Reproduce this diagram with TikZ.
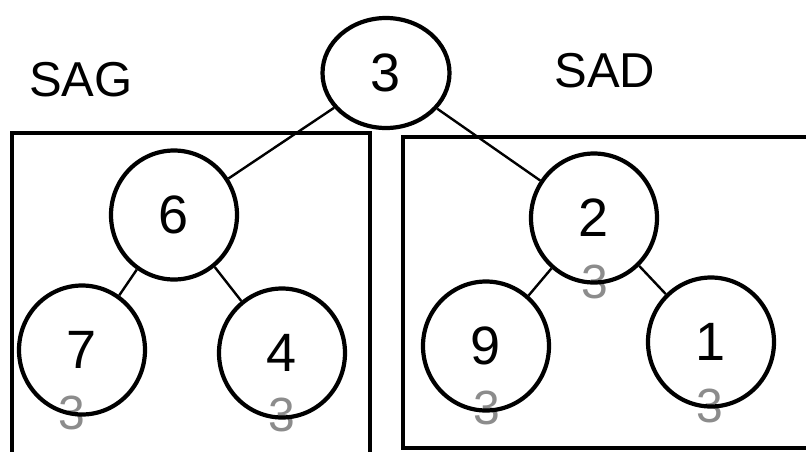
\documentclass[tikz,border=0pt]{standalone}
\usepackage{fontspec}
\setmainfont{Liberation Sans}
\usetikzlibrary{shapes.geometric}
\begin{document}
\begin{tikzpicture}[x=1pt,y=-1pt,
  tnode/.style={draw, ellipse, line width=4.2pt, inner sep=0pt, minimum width=126pt, minimum height=129pt, font=\fontsize{54}{54}\selectfont},
  rootnode/.style={tnode, minimum width=127pt, minimum height=110pt},
  edge/.style={line width=2.4pt},
  boxline/.style={line width=3.6pt},
  lbl/.style={inner sep=0pt, font=\fontsize{49}{49}\selectfont},
  ghost/.style={inner sep=0pt, text=black!45, font=\fontsize{48}{48}\selectfont}]
\useasboundingbox (0,0) rectangle (806,451);
\clip (0,0) rectangle (806,451);
% boxes
\draw[boxline] (12,460) -- (12,133) -- (370,133) -- (370,460);
\draw[boxline] (820,137) -- (403,137) -- (403,448) -- (820,448);
% labels
\node[lbl] (sag) at (81,80) {SAG};
\node[lbl] (sad) at (605,71) {SAD};
% ghost digits
\node[ghost] (g7) at (72,413) {3};
\node[ghost] (g4) at (282,415) {3};
\node[ghost] (g2) at (595,282) {3};
\node[ghost] (g9) at (487,408) {3};
\node[ghost] (g1) at (710,406) {3};
% tree nodes
\node[rootnode] (r) at (386,73) {3};
\node[tnode] (n6) at (174,215) {6};
\node[tnode] (n7) at (82,350) {7};
\node[tnode] (n4) at (282,353) {4};
\node[tnode] (n2) at (594,218) {2};
\node[tnode] (n9) at (486,346) {9};
\node[tnode] (n1) at (711,342) {1};
% edges
\draw[edge] (r) -- (n6);
\draw[edge] (r) -- (n2);
\draw[edge] (n6) -- (n7);
\draw[edge] (n6) -- (n4);
\draw[edge] (n2) -- (n9);
\draw[edge] (n2) -- (n1);
\end{tikzpicture}
\end{document}
